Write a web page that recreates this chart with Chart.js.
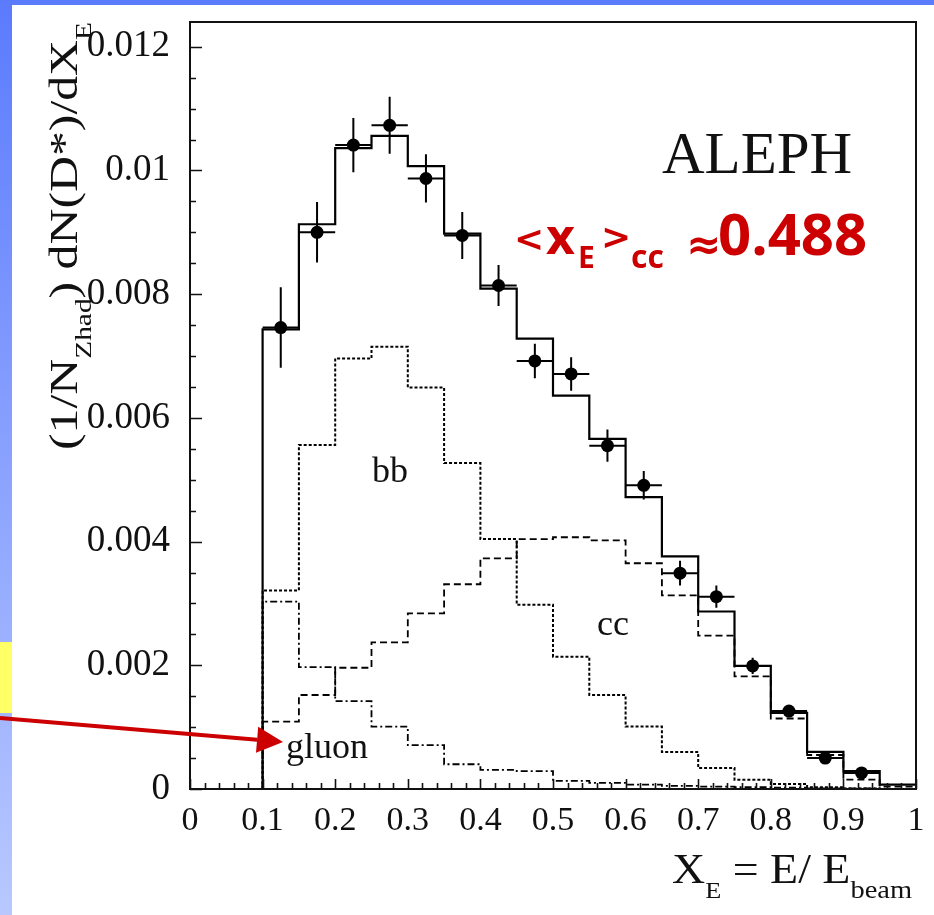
<!DOCTYPE html>
<html>
<head>
<meta charset="utf-8">
<title>ALEPH D* x_E spectrum</title>
<script src="https://cdn.jsdelivr.net/npm/chart.js@4.4.1/dist/chart.umd.min.js"></script>
<style>
  html, body { margin: 0; padding: 0; background: #fff; }
  body { width: 934px; height: 915px; position: relative; overflow: hidden; }
  #topBar { position: absolute; left: 0; top: 0; width: 934px; height: 5px; background: #5b7cfd; }
  #sideBar { position: absolute; left: 0; top: 0; width: 12px; height: 915px; background: linear-gradient(#5b7bfd, #b8c8ff); }
  #note { position: absolute; left: 0; top: 642px; width: 12px; height: 71px; background: #ffff66; }
  #chart { position: absolute; left: 0; top: 0; }
</style>
</head>
<body>
<div id="topBar"></div>
<div id="sideBar"></div>
<div id="note"></div>
<canvas id="chart" width="934" height="915"></canvas>
<script>
// histogram bin edges in x_E
const binEdges = [0.10, 0.15, 0.20, 0.25, 0.30, 0.35, 0.40, 0.45, 0.50, 0.55,
                  0.60, 0.65, 0.70, 0.75, 0.80, 0.85, 0.90, 0.95, 1.00];

// MC expectations per bin
const totalMC = [0.00743, 0.00913, 0.01036, 0.01056, 0.01007, 0.00898, 0.00809, 0.00728, 0.00636,
                 0.00566, 0.00472, 0.00376, 0.00287, 0.00199, 0.00123, 0.00060, 0.00029, 0.00007];
const bbMC    = [0.00321, 0.00556, 0.00696, 0.00715, 0.00649, 0.00527, 0.00404, 0.00298, 0.00214,
                 0.00152, 0.00101, 0.00060, 0.00034, 0.00015, 0.00008, 0.00003, 0.00001, 0.00000];
const ccMC    = [0.00109, 0.00152, 0.00196, 0.00237, 0.00284, 0.00331, 0.00373, 0.00404, 0.00407,
                 0.00402, 0.00365, 0.00313, 0.00248, 0.00182, 0.00114, 0.00055, 0.00015, 0.00004];
const gluonMC = [0.00303, 0.00197, 0.00142, 0.00101, 0.00071, 0.00040, 0.00031, 0.00029, 0.00013,
                 0.00010, 0.00007, 0.00005, 0.00004, 0.00003, 0.00002, 0.00001, 0.00001, 0.00000];

// measured points
const dataX   = [0.125, 0.175, 0.225, 0.275, 0.325, 0.375, 0.425, 0.475, 0.525,
                 0.575, 0.625, 0.675, 0.725, 0.775, 0.825, 0.875, 0.925];
const dataY   = [0.00746, 0.00900, 0.01041, 0.01073, 0.00987, 0.00895, 0.00814, 0.00692, 0.00671,
                 0.00555, 0.00491, 0.00349, 0.00311, 0.00199, 0.00126, 0.00050, 0.00026];
const dataErr = [0.00065, 0.00049, 0.00044, 0.00046, 0.00039, 0.00038, 0.00033, 0.00028, 0.00027,
                 0.00026, 0.00023, 0.00020, 0.00018, 0.00013, 0.00010, 0.00008, 0.00006];
const dataXErr = 0.025;

const xTickValues = [0, 0.1, 0.2, 0.3, 0.4, 0.5, 0.6, 0.7, 0.8, 0.9, 1];
const xTickLabels = ['0', '0.1', '0.2', '0.3', '0.4', '0.5', '0.6', '0.7', '0.8', '0.9', '1'];
const yTickValues = [0, 0.002, 0.004, 0.006, 0.008, 0.010, 0.012];
const yTickLabels = ['0', '0.002', '0.004', '0.006', '0.008', '0.01', '0.012'];

const SERIF = "'Liberation Serif', 'Times New Roman', serif";
const RED_FONT = "'Open Sans', 'DejaVu Sans', sans-serif";
const SYM_FONT = "'DejaVu Sans', sans-serif";
const RED = '#cc0000';

// step outline starting from zero at the first edge
function histPoints(values) {
    const pts = [{ x: binEdges[0], y: 0 }];
    values.forEach((v, i) => pts.push({ x: binEdges[i], y: v }));
    pts.push({ x: binEdges[binEdges.length - 1], y: values[values.length - 1] });
    return pts;
}

function yErrorBars() {
    const pts = [];
    dataX.forEach((x, i) => {
        pts.push({ x: x, y: dataY[i] - dataErr[i] }, { x: x, y: dataY[i] + dataErr[i] }, { x: x, y: null });
    });
    return pts;
}

function xErrorBars() {
    const pts = [];
    dataX.forEach((x, i) => {
        pts.push({ x: x - dataXErr, y: dataY[i] }, { x: x + dataXErr, y: dataY[i] }, { x: x, y: null });
    });
    return pts;
}

// draw a run of text pieces, squeezed/stretched to a given length
function drawPieces(ctx, pieces, targetLen) {
    let total = 0;
    pieces.forEach(p => { ctx.font = p.font; total += ctx.measureText(p.text).width; });
    ctx.scale(targetLen / total, 1);
    let x = 0;
    pieces.forEach(p => {
        ctx.font = p.font;
        ctx.fillText(p.text, x, p.dy || 0);
        x += ctx.measureText(p.text).width;
    });
}

function noPadding(scale) {
    scale.paddingTop = 0;
    scale.paddingBottom = 0;
    scale.paddingLeft = 0;
    scale.paddingRight = 0;
}

const framePlugin = {
    id: 'frameAndTicks',
    afterDatasetsDraw(chart) {
        const { ctx, chartArea: a, scales: { x, y } } = chart;
        ctx.save();
        ctx.strokeStyle = '#111';
        ctx.lineWidth = 1.6;
        ctx.beginPath();
        // y ticks, minor every 0.0005
        for (let k = 0; k * 0.0005 <= y.max + 1e-9; k++) {
            const py = Math.round(y.getPixelForValue(k * 0.0005)) + 0.5;
            const len = k % 4 === 0 ? 12 : 6;
            ctx.moveTo(a.left, py);
            ctx.lineTo(a.left + len, py);
        }
        // x ticks, minor every 0.02
        for (let k = 0; k <= 50; k++) {
            const px = Math.round(x.getPixelForValue(k * 0.02)) + 0.5;
            const len = k % 5 === 0 ? 10 : 6;
            ctx.moveTo(px, a.bottom);
            ctx.lineTo(px, a.bottom - len);
        }
        ctx.stroke();
        ctx.lineWidth = 2;
        ctx.strokeRect(a.left, a.top, a.right - a.left, a.bottom - a.top);
        ctx.restore();
    },
    afterDraw(chart) {
        const ctx = chart.ctx;
        ctx.save();
        ctx.fillStyle = '#111';
        ctx.textAlign = 'left';
        ctx.textBaseline = 'alphabetic';

        ctx.font = '59px ' + SERIF;
        ctx.fillText('ALEPH', 662, 173);
        ctx.font = '36px ' + SERIF;
        ctx.fillText('bb', 372, 482);
        ctx.fillText('cc', 597, 635);
        ctx.fillText('gluon', 286, 758);

        // x axis title
        ctx.save();
        ctx.translate(672, 883);
        drawPieces(ctx, [
            { text: 'X', font: '42px ' + SERIF },
            { text: 'E', font: '24px ' + SERIF, dy: 15 },
            { text: ' = E/ E', font: '42px ' + SERIF },
            { text: 'beam', font: '26px ' + SERIF, dy: 15 }
        ], 240);
        ctx.restore();

        // y axis title
        ctx.save();
        ctx.translate(77, 450);
        ctx.rotate(-Math.PI / 2);
        drawPieces(ctx, [
            { text: '(1/N', font: '39px ' + SERIF },
            { text: 'Zhad', font: '23px ' + SERIF, dy: 14 },
            { text: ') dN(D*)/dX', font: '39px ' + SERIF },
            { text: 'E', font: '23px ' + SERIF, dy: 14 }
        ], 428);
        ctx.restore();

        // red annotation
        ctx.fillStyle = RED;
        ctx.font = 'bold 36px ' + SYM_FONT;
        ctx.fillText('<', 514, 251);
        ctx.font = 'bold 50px ' + RED_FONT;
        ctx.fillText('x', 546, 254);
        ctx.font = 'bold 30px ' + RED_FONT;
        ctx.fillText('E', 578, 268);
        ctx.font = 'bold 36px ' + SYM_FONT;
        ctx.fillText('>', 601, 249);
        ctx.font = 'bold 32px ' + RED_FONT;
        ctx.fillText('cc', 631, 268);
        ctx.font = 'bold 42px ' + SYM_FONT;
        ctx.fillText('\u2248', 686, 259);
        ctx.font = 'bold 58px ' + RED_FONT;
        ctx.fillText('0.488', 718, 255);

        // arrow pointing at the gluon label
        const x0 = 0, y0 = 718, tx = 283, ty = 742;
        const ang = Math.atan2(ty - y0, tx - x0);
        const hl = 26, hw = 13;
        const bx = tx - hl * Math.cos(ang), by = ty - hl * Math.sin(ang);
        ctx.strokeStyle = RED;
        ctx.lineWidth = 4;
        ctx.beginPath();
        ctx.moveTo(x0, y0);
        ctx.lineTo(bx, by);
        ctx.stroke();
        ctx.beginPath();
        ctx.moveTo(tx, ty);
        ctx.lineTo(bx - hw * Math.sin(ang), by + hw * Math.cos(ang));
        ctx.lineTo(bx + hw * Math.sin(ang), by - hw * Math.cos(ang));
        ctx.closePath();
        ctx.fill();
        ctx.restore();
    }
};

const stepLine = (values, dash, width, order) => ({
    type: 'line',
    data: histPoints(values),
    stepped: 'before',
    borderColor: '#000',
    borderWidth: width,
    borderDash: dash,
    pointRadius: 0,
    fill: false,
    order: order,
});

const ctx = document.getElementById('chart').getContext('2d');
new Chart(ctx, {
    type: 'line',
    data: {
        datasets: [
            { label: 'Data', type: 'scatter', data: dataX.map((x, i) => ({ x: x, y: dataY[i] })),
              showLine: false, pointRadius: 6.5, pointBackgroundColor: '#000', pointBorderWidth: 0, order: 0 },
            { label: 'y errors', data: yErrorBars(), borderColor: '#000', borderWidth: 2, pointRadius: 0, spanGaps: false, order: 1 },
            { label: 'x errors', data: xErrorBars(), borderColor: '#000', borderWidth: 2, pointRadius: 0, spanGaps: false, order: 1 },
            Object.assign({ label: 'total' }, stepLine(totalMC, [], 2.2, 2)),
            Object.assign({ label: 'bb' }, stepLine(bbMC, [3, 2], 2, 3)),
            Object.assign({ label: 'cc' }, stepLine(ccMC, [7, 4], 1.8, 4)),
            Object.assign({ label: 'gluon' }, stepLine(gluonMC, [7, 3, 2, 3], 1.8, 5)),
        ],
    },
    options: {
        responsive: false,
        animation: false,
        layout: { padding: { left: 0, top: 22, right: 18, bottom: 0 } },
        plugins: { legend: { display: false }, tooltip: { enabled: false } },
        scales: {
            x: {
                type: 'linear',
                min: 0,
                max: 1,
                grid: { display: false },
                border: { display: false },
                afterFit: (scale) => { scale.height = 126; noPadding(scale); },
                afterBuildTicks: (scale) => { scale.ticks = xTickValues.map(v => ({ value: v })); },
                ticks: {
                    padding: 4,
                    maxRotation: 0,
                    autoSkip: false,
                    color: '#111',
                    font: { family: SERIF, size: 34 },
                    callback: (v, i) => xTickLabels[i],
                },
            },
            y: {
                type: 'linear',
                min: 0,
                max: 0.0124,
                grid: { display: false },
                border: { display: false },
                afterFit: (scale) => { scale.width = 190; noPadding(scale); },
                afterBuildTicks: (scale) => { scale.ticks = yTickValues.map(v => ({ value: v })); },
                ticks: {
                    padding: 12,
                    autoSkip: false,
                    color: '#111',
                    font: { family: SERIF, size: 37 },
                    callback: (v, i) => yTickLabels[i],
                },
            },
        },
    },
    plugins: [framePlugin],
});
</script>
</body>
</html>
